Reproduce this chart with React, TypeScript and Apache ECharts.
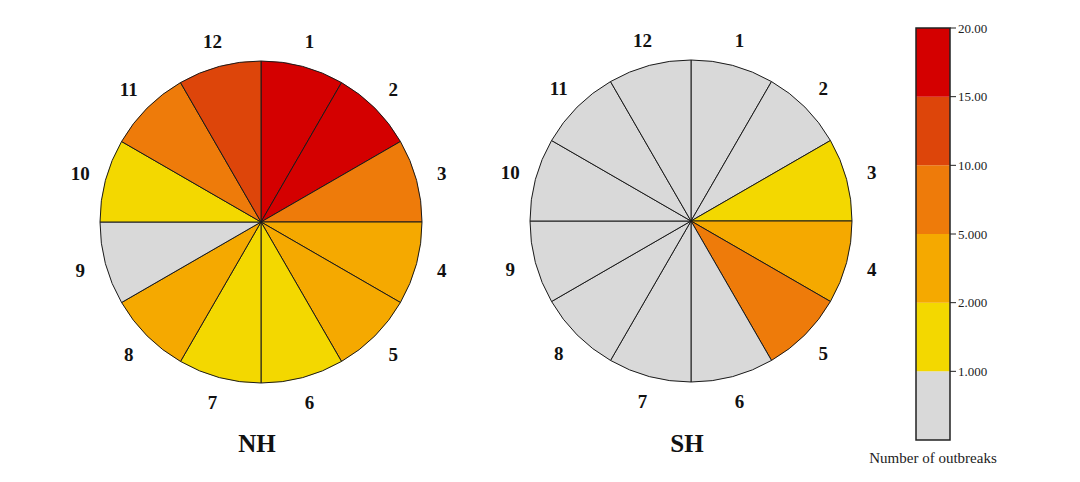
import React, { useEffect, useRef } from "react";
import * as echarts from "echarts";

const months = ["1", "2", "3", "4", "5", "6", "7", "8", "9", "10", "11", "12"];
const nhOutbreaks = [17, 16, 7, 3, 3, 1, 1, 3, 0, 1, 6, 12];
const shOutbreaks = [0, 0, 1, 3, 7, 0, 0, 0, 0, 0, 0, 0];
const thresholds = [1, 2, 5, 10, 15, 20];
const tickLabels = ["1.000", "2.000", "5.000", "10.00", "15.00", "20.00"];
const bandColors = ["#D9D9D9", "#F3D800", "#F5A900", "#EE7B0A", "#DD450A", "#D40000"];
const panels = ["NH", "SH"];

const SERIF = "'Liberation Serif', 'DejaVu Serif', serif";

function colorFor(v: number): string {
  let idx = 0;
  for (const t of thresholds) if (v >= t) idx++;
  return bandColors[Math.min(idx, bandColors.length - 1)];
}

export default function App() {
  const ref = useRef<HTMLDivElement>(null);
  useEffect(() => {
    if (!ref.current) return;
    const chart = echarts.init(ref.current, undefined, { renderer: "svg" });
    const centers = [
      [261, 222],
      [691, 221],
    ];
    const datasets = [nhOutbreaks, shOutbreaks];
    const series: any[] = [];
    datasets.forEach((vals, k) => {
      series.push({
        type: "pie",
        center: centers[k],
        radius: 161,
        startAngle: 90,
        clockwise: true,
        silent: true,
        label: { show: false },
        labelLine: { show: false },
        itemStyle: { borderColor: "#1a1a1a", borderWidth: 1 },
        data: months.map((m, i) => ({ name: m, value: 1, outbreaks: vals[i], itemStyle: { color: colorFor(vals[i]) } })),
      });
      series.push({
        type: "pie",
        center: centers[k],
        radius: [170, 198],
        startAngle: 90,
        clockwise: true,
        silent: true,
        itemStyle: { color: "rgba(0,0,0,0)" },
        label: {
          show: true,
          position: "inside",
          rotate: 0,
          formatter: "{b}",
          fontFamily: SERIF,
          fontWeight: "bold",
          fontSize: 19,
          color: "#111",
        },
        labelLine: { show: false },
        data: months.map((m) => ({ name: m, value: 1 })),
      });
    });

    const barX = 916, barW = 34, barTop = 28, barBottom = 440;
    const bandH = (barBottom - barTop) / bandColors.length;
    const graphic: any[] = [];
    bandColors.forEach((c, i) => {
      graphic.push({
        type: "rect",
        shape: { x: barX, y: barBottom - (i + 1) * bandH, width: barW, height: bandH },
        style: { fill: c },
        silent: true,
      });
    });
    graphic.push({
      type: "rect",
      shape: { x: barX, y: barTop, width: barW, height: barBottom - barTop },
      style: { fill: "none", stroke: "#222", lineWidth: 1.5 },
      silent: true,
    });
    tickLabels.forEach((t, i) => {
      const y = barBottom - (i + 1) * bandH;
      graphic.push({
        type: "line",
        shape: { x1: barX + barW, y1: y, x2: barX + barW + 6, y2: y },
        style: { stroke: "#222", lineWidth: 1 },
        silent: true,
      });
      graphic.push({
        type: "text",
        x: barX + barW + 8,
        y,
        style: { text: t, font: `13px ${SERIF}`, fill: "#222", align: "left", verticalAlign: "middle" },
        silent: true,
      });
    });
    graphic.push({
      type: "text",
      x: 933,
      y: 458,
      style: { text: "Number of outbreaks", font: `15px ${SERIF}`, fill: "#222", align: "center", verticalAlign: "middle" },
      silent: true,
    });
    panels.forEach((p, k) => {
      graphic.push({
        type: "text",
        x: centers[k][0] - 4,
        y: 443,
        style: { text: p, font: `bold 25px ${SERIF}`, fill: "#111", align: "center", verticalAlign: "middle" },
        silent: true,
      });
    });

    chart.setOption({
      animation: false,
      backgroundColor: "#ffffff",
      series,
      graphic,
    });
    return () => chart.dispose();
  }, []);
  return <div ref={ref} style={{ position: "fixed", left: 0, top: 0, width: 1080, height: 482 }} />;
}
